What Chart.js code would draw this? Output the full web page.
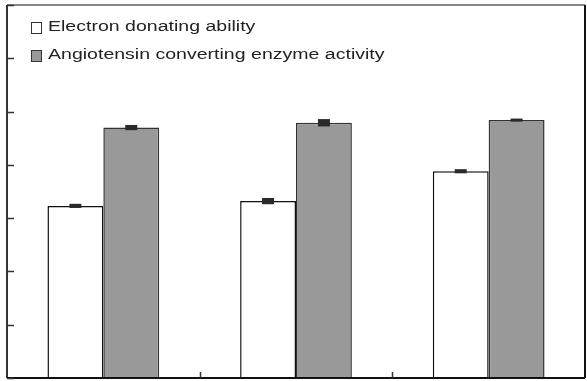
<!DOCTYPE html>
<html>
<head>
<meta charset="utf-8">
<script src="https://cdn.jsdelivr.net/npm/chart.js@4/dist/chart.umd.min.js"></script>
<style>
  html, body { margin: 0; padding: 0; background: #fff; }
  #wrap { position: relative; width: 587px; height: 381px; }
  canvas { display: block; }
  #legend { position: absolute; left: 31px; top: 15px; font-family: "Liberation Sans", Arial, sans-serif; font-size: 15.5px; color: #222; }
  .item { position: relative; height: 27.5px; line-height: 20px; white-space: nowrap; }
  .box { position: absolute; left: 0; top: 7px; width: 9px; height: 10px; border: 1px solid #333; }
  .lbl { position: absolute; left: 17px; top: 1px; transform: scaleX(1.26); transform-origin: left center; }
</style>
</head>
<body>
<div id="wrap">
  <canvas id="c" width="587" height="381"></canvas>
  <div id="legend"></div>
</div>
<script>
const categories = ["Sample 1", "Sample 2", "Sample 3"];
const seriesNames = ["Electron donating ability", "Angiotensin converting enzyme activity"];
const electronDonating = [32.3, 33.2, 38.8];
const electronDonatingErr = [0.2, 0.4, 0.2];
const aceActivity = [47.0, 47.9, 48.4];
const aceActivityErr = [0.3, 0.5, 0.1];
const yTicks = [0, 10, 20, 30, 40, 50, 60, 70];
const fills = ["#ffffff", "#999999"];

const errs = [electronDonatingErr, aceActivityErr];

// HTML legend
const leg = document.getElementById('legend');
seriesNames.forEach((n, i) => {
  const d = document.createElement('div');
  d.className = 'item';
  d.innerHTML = '<span class="box" style="background:' + fills[i] + '"></span><span class="lbl">' + n + '</span>';
  leg.appendChild(d);
});

const framePlugin = {
  id: 'frame',
  afterDatasetsDraw(chart) {
    const ctx = chart.ctx;
    const a = chart.chartArea;
    const xs = chart.scales.x, ys = chart.scales.y;
    ctx.save();
    // error bars
    chart.data.datasets.forEach((ds, di) => {
      const meta = chart.getDatasetMeta(di);
      meta.data.forEach((bar, i) => {
        const v = ds.data[i], e = errs[di][i];
        const yTop = ys.getPixelForValue(v + e), yBot = ys.getPixelForValue(v - e);
        ctx.fillStyle = '#2a2a2a';
        ctx.fillRect(bar.x - 6, yTop - 1, 12, (yBot - yTop) + 2);
      });
    });
    // frame
    ctx.lineWidth = 2;
    ctx.strokeStyle = '#888';
    ctx.beginPath(); ctx.moveTo(a.left, a.top); ctx.lineTo(a.right, a.top); ctx.stroke();
    ctx.strokeStyle = '#111';
    ctx.beginPath(); ctx.moveTo(a.right, a.top); ctx.lineTo(a.right, a.bottom); ctx.stroke();
    ctx.strokeStyle = '#333';
    ctx.beginPath(); ctx.moveTo(a.left, a.top); ctx.lineTo(a.left, a.bottom); ctx.stroke();
    ctx.strokeStyle = '#111';
    ctx.beginPath(); ctx.moveTo(a.left, a.bottom); ctx.lineTo(a.right, a.bottom); ctx.stroke();
    // y ticks (inward)
    ctx.lineWidth = 1.5;
    ctx.strokeStyle = '#333';
    yTicks.forEach(t => {
      const y = Math.round(ys.getPixelForValue(t)) + 0.5;
      ctx.beginPath(); ctx.moveTo(a.left, y); ctx.lineTo(a.left + 7, y); ctx.stroke();
    });
    // x ticks at category boundaries (inward)
    for (let i = 1; i < categories.length; i++) {
      const x = Math.round((xs.getPixelForValue(i - 1) + xs.getPixelForValue(i)) / 2) + 0.5;
      ctx.beginPath(); ctx.moveTo(x, a.bottom); ctx.lineTo(x, a.bottom - 6); ctx.stroke();
    }
    ctx.restore();
  }
};

new Chart(document.getElementById('c'), {
  type: 'bar',
  data: {
    labels: categories,
    datasets: [
      { label: seriesNames[0], data: electronDonating, backgroundColor: fills[0], borderColor: '#111', borderWidth: 1.5, borderSkipped: 'bottom' },
      { label: seriesNames[1], data: aceActivity, backgroundColor: fills[1], borderColor: '#333', borderWidth: 1.5, borderSkipped: 'bottom' }
    ]
  },
  options: {
    responsive: false,
    animation: false,
    devicePixelRatio: 1,
    layout: { padding: { left: 7, top: 5, right: 2, bottom: 3 } },
    categoryPercentage: 0.58,
    barPercentage: 1.0,
    plugins: { legend: { display: false }, tooltip: { enabled: false } },
    scales: {
      x: {
        ticks: { display: false },
        grid: { display: false },
        border: { display: false },
        afterFit(s) { s.height = 0; }
      },
      y: {
        min: 0, max: 70,
        ticks: { display: false, stepSize: 10 },
        grid: { display: false },
        border: { display: false },
        afterFit(s) { s.width = 0; }
      }
    }
  },
  plugins: [framePlugin]
});
</script>
</body>
</html>
